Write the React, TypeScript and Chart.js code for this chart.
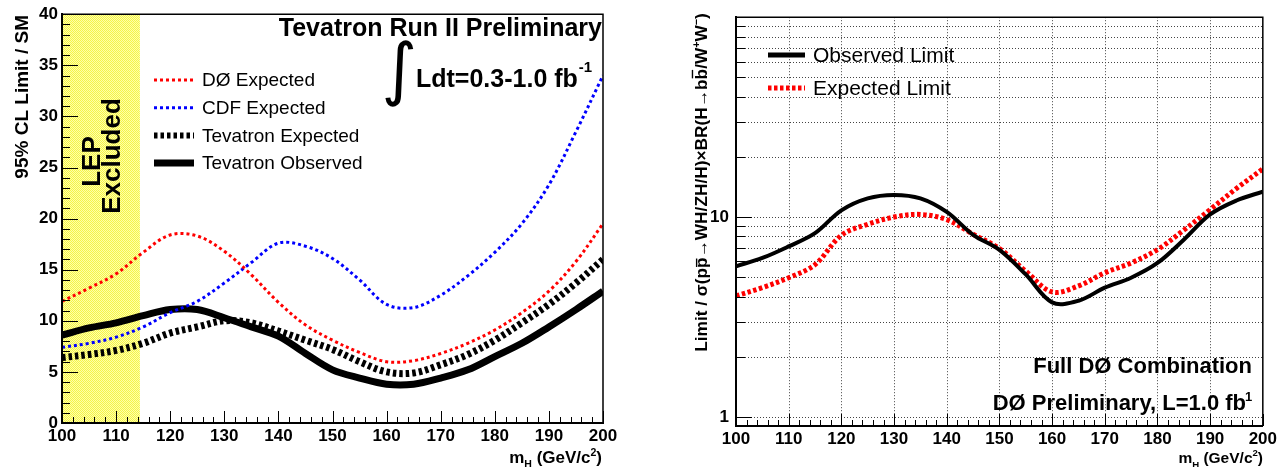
import React, { useEffect, useRef } from 'react';
import { Chart, registerables } from 'chart.js';

Chart.register(...registerables);

const FAMILY = "'Liberation Sans', Arial, Helvetica, sans-serif";

// ---------- Left panel: Tevatron combination (limit / SM) ----------
const massL = [100, 105, 110, 115, 120, 125, 130, 135, 140, 145, 150, 155, 160, 165, 170, 175, 180, 185, 190, 195, 200];
const d0Expected = [11.9, 13.2, 14.6, 16.7, 18.4, 18.3, 16.8, 14.5, 11.8, 9.6, 8.1, 6.9, 6.0, 6.1, 6.8, 7.8, 9.1, 10.8, 12.9, 15.8, 19.5];
const cdfExpected = [7.4, 7.8, 8.4, 9.4, 10.8, 11.9, 13.7, 15.7, 17.6, 17.3, 16.1, 14.0, 11.6, 11.3, 12.5, 14.4, 16.7, 19.5, 23.3, 28.5, 34.0];
const tevExpected = [6.4, 6.7, 7.1, 7.8, 8.8, 9.4, 10.0, 9.8, 9.0, 8.1, 7.2, 6.0, 5.0, 4.9, 5.7, 6.7, 8.1, 9.8, 11.6, 13.7, 16.0];
const tevObserved = [8.6, 9.3, 9.8, 10.5, 11.1, 11.1, 10.3, 9.4, 8.5, 6.8, 5.2, 4.4, 3.8, 3.8, 4.4, 5.2, 6.5, 7.8, 9.4, 11.1, 12.9];
const lepLimit = 114.4;
const seriesNamesL = ['DØ Expected', 'CDF Expected', 'Tevatron Expected', 'Tevatron Observed'];

// ---------- Right panel: full DØ combination (log) ----------
const massR = [100, 105, 110, 115, 120, 125, 130, 135, 140, 145, 150, 155, 160, 165, 170, 175, 180, 185, 190, 195, 200];
const d0ObservedLimit = [5.67, 6.24, 7.13, 8.3, 10.8, 12.4, 12.9, 12.4, 10.6, 8.15, 6.85, 5.16, 3.74, 3.81, 4.43, 4.97, 5.89, 7.7, 10.3, 12.1, 13.4];
const d0ExpectedLimit = [4.03, 4.43, 4.97, 5.78, 8.1, 9.2, 10.0, 10.3, 9.7, 8.2, 6.95, 5.36, 4.22, 4.52, 5.26, 5.89, 6.87, 8.6, 10.9, 13.9, 17.4];
const seriesNamesR = ['Observed Limit', 'Expected Limit'];
const logGridValues = [1, 2, 3, 4, 5, 6, 7, 8, 9, 10, 20, 30, 40, 50, 60, 70, 80, 90];
const logLabelValues = [1, 10];

const pts = (xs: number[], ys: number[]) => xs.map((x, i) => ({ x, y: ys[i] }));

type Seg = { t: string; k?: 'sup' | 'sub'; over?: number };

function segSize(seg: Seg, size: number) {
  return seg.k ? size * 0.62 : size;
}

function richWidth(ctx: CanvasRenderingContext2D, segs: Seg[], size: number, weight: string) {
  let w = 0;
  for (const s of segs) {
    ctx.font = `${weight} ${segSize(s, size)}px ${FAMILY}`;
    w += ctx.measureText(s.t).width;
  }
  return w;
}

function drawRich(
  ctx: CanvasRenderingContext2D,
  segs: Seg[],
  x: number,
  y: number,
  size: number,
  align: 'left' | 'right' | 'center',
  weight = 'bold',
  supShift = 0.42,
  subShift = 0.3
) {
  const w = richWidth(ctx, segs, size, weight);
  let cx = align === 'left' ? x : align === 'right' ? x - w : x - w / 2;
  ctx.textAlign = 'left';
  ctx.textBaseline = 'alphabetic';
  for (const s of segs) {
    const sz = segSize(s, size);
    ctx.font = `${weight} ${sz}px ${FAMILY}`;
    const dy = s.k === 'sup' ? -size * supShift : s.k === 'sub' ? size * subShift : 0;
    ctx.fillText(s.t, cx, y + dy);
    const sw = ctx.measureText(s.t).width;
    if (s.over) {
      ctx.save();
      ctx.lineWidth = Math.max(1, size * 0.08);
      ctx.beginPath();
      ctx.moveTo(cx + sw * 0.1, y - size * s.over);
      ctx.lineTo(cx + sw * 0.9, y - size * s.over);
      ctx.stroke();
      ctx.restore();
    }
    cx += sw;
  }
}

function makePattern(ctx: CanvasRenderingContext2D) {
  const c = document.createElement('canvas');
  c.width = 2;
  c.height = 2;
  const p = c.getContext('2d')!;
  p.fillStyle = '#ffffa8';
  p.fillRect(0, 0, 2, 2);
  p.fillStyle = '#f4f44a';
  p.fillRect(0, 0, 1, 1);
  p.fillRect(1, 1, 1, 1);
  return ctx.createPattern(c, 'repeat') || '#ffff70';
}

function drawIntegral(ctx: CanvasRenderingContext2D, cx: number, top: number, bottom: number) {
  ctx.save();
  ctx.font = `100px 'DejaVu Sans'`;
  let m = ctx.measureText('∫');
  const h = m.actualBoundingBoxAscent + m.actualBoundingBoxDescent;
  const size = (100 * (bottom - top)) / h;
  ctx.font = `${size}px 'DejaVu Sans'`;
  m = ctx.measureText('∫');
  ctx.textAlign = 'left';
  ctx.textBaseline = 'alphabetic';
  ctx.fillStyle = '#000';
  const x = cx - (m.actualBoundingBoxRight - m.actualBoundingBoxLeft) / 2;
  ctx.fillText('∫', x, top + m.actualBoundingBoxAscent);
  ctx.restore();
}

function yTicks(ctx: CanvasRenderingContext2D, chart: any, values: number[], len: number) {
  const ys = chart.scales.y;
  const l = chart.chartArea.left;
  ctx.beginPath();
  for (const v of values) {
    const py = Math.round(ys.getPixelForValue(v)) + 0.5;
    ctx.moveTo(l, py);
    ctx.lineTo(l + len, py);
  }
  ctx.stroke();
}

function xTicks(ctx: CanvasRenderingContext2D, chart: any, values: number[], len: number) {
  const xs = chart.scales.x;
  const b = chart.chartArea.bottom;
  ctx.beginPath();
  for (const v of values) {
    const px = Math.round(xs.getPixelForValue(v)) + 0.5;
    ctx.moveTo(px, b);
    ctx.lineTo(px, b - len);
  }
  ctx.stroke();
}

function range(a: number, b: number, step: number) {
  const out: number[] = [];
  for (let v = a; v <= b + 1e-9; v += step) out.push(v);
  return out;
}

function drawFrame(ctx: CanvasRenderingContext2D, a: any) {
  ctx.save();
  ctx.strokeStyle = '#000';
  ctx.lineWidth = 1.5;
  ctx.beginPath();
  ctx.moveTo(a.left, a.top);
  ctx.lineTo(a.right, a.top);
  ctx.lineTo(a.right, a.bottom);
  ctx.stroke();
  ctx.lineWidth = 2;
  ctx.beginPath();
  ctx.moveTo(a.left, a.top);
  ctx.lineTo(a.left, a.bottom);
  ctx.lineTo(a.right, a.bottom);
  ctx.stroke();
  ctx.restore();
}

function drawLegend(ctx: CanvasRenderingContext2D, chart: any, x0: number, x1: number, tx: number, y0: number, dy: number, size: number) {
  chart.data.datasets.forEach((ds: any, i: number) => {
    const y = y0 + dy * i;
    ctx.save();
    ctx.strokeStyle = ds.borderColor;
    ctx.lineWidth = ds.legendWidth || ds.borderWidth;
    ctx.setLineDash(ds.borderDash || []);
    ctx.beginPath();
    ctx.moveTo(x0, y);
    ctx.lineTo(x1, y);
    ctx.stroke();
    ctx.restore();
    ctx.save();
    ctx.fillStyle = '#000';
    ctx.font = `${size}px ${FAMILY}`;
    ctx.textAlign = 'left';
    ctx.textBaseline = 'middle';
    ctx.fillText(ds.label, tx, y + 1);
    ctx.restore();
  });
}

const massTitle: Seg[] = [{ t: 'm' }, { t: 'H', k: 'sub' }, { t: ' (GeV/c' }, { t: '2', k: 'sup' }, { t: ')' }];

const leftDecor = {
  id: 'leftDecor',
  beforeDatasetsDraw(chart: any) {
    const { ctx, chartArea: a, scales } = chart;
    const x1 = scales.x.getPixelForValue(lepLimit);
    ctx.save();
    ctx.fillStyle = makePattern(ctx);
    ctx.fillRect(a.left, a.top, x1 - a.left, a.bottom - a.top);
    ctx.fillStyle = '#000';
    ctx.font = `bold 26px ${FAMILY}`;
    ctx.textAlign = 'center';
    ctx.textBaseline = 'alphabetic';
    ctx.save();
    ctx.translate(100, 161.5);
    ctx.rotate(-Math.PI / 2);
    ctx.fillText('LEP', 0, 0);
    ctx.restore();
    ctx.save();
    ctx.translate(120, 156);
    ctx.rotate(-Math.PI / 2);
    ctx.fillText('Excluded', 0, 0);
    ctx.restore();
    ctx.restore();
  },
  afterDraw(chart: any) {
    const { ctx, chartArea: a } = chart;
    ctx.save();
    ctx.strokeStyle = '#000';
    ctx.lineWidth = 1;
    yTicks(ctx, chart, range(0, 40, 1), 8);
    yTicks(ctx, chart, range(0, 40, 5), 16);
    xTicks(ctx, chart, range(100, 200, 2), 6);
    xTicks(ctx, chart, range(100, 200, 10), 12);
    ctx.restore();
    drawFrame(ctx, a);

    ctx.save();
    ctx.fillStyle = '#000';
    ctx.font = `bold 25px ${FAMILY}`;
    ctx.textAlign = 'right';
    ctx.textBaseline = 'alphabetic';
    ctx.fillText('Tevatron Run II Preliminary', 602, 36);
    ctx.textAlign = 'left';
    const lumi = 'Ldt=0.3-1.0 fb';
    ctx.fillText(lumi, 416, 87);
    const lw = ctx.measureText(lumi).width;
    ctx.font = `bold 15px ${FAMILY}`;
    ctx.fillText('-1', 416 + lw + 1, 72);
    ctx.restore();
    drawIntegral(ctx, 399, 40, 107);

    drawLegend(ctx, chart, 154, 194, 202, 80, 27.7, 19);

    ctx.save();
    ctx.fillStyle = '#000';
    ctx.strokeStyle = '#000';
    ctx.translate(28, 15);
    ctx.rotate(-Math.PI / 2);
    drawRich(ctx, [{ t: '95% CL Limit / SM' }], 0, 0, 19, 'right');
    ctx.restore();

    ctx.save();
    ctx.fillStyle = '#000';
    drawRich(ctx, massTitle, 602, 463, 17, 'right');
    ctx.restore();
  },
};

const rightDecor = {
  id: 'rightDecor',
  beforeDatasetsDraw(chart: any) {
    const { ctx, chartArea: a, scales } = chart;
    ctx.save();
    ctx.strokeStyle = '#444';
    ctx.lineWidth = 1;
    ctx.setLineDash([1, 2]);
    ctx.beginPath();
    for (const v of range(110, 190, 10)) {
      const px = Math.round(scales.x.getPixelForValue(v)) + 0.5;
      ctx.moveTo(px, a.top);
      ctx.lineTo(px, a.bottom);
    }
    for (const v of logGridValues) {
      const py = Math.round(scales.y.getPixelForValue(v)) + 0.5;
      ctx.moveTo(a.left, py);
      ctx.lineTo(a.right, py);
    }
    ctx.stroke();
    ctx.restore();
  },
  afterDraw(chart: any) {
    const { ctx, chartArea: a } = chart;
    ctx.save();
    ctx.strokeStyle = '#000';
    ctx.lineWidth = 1;
    yTicks(ctx, chart, logGridValues, 9);
    yTicks(ctx, chart, logLabelValues, 16);
    xTicks(ctx, chart, range(100, 200, 2), 6);
    xTicks(ctx, chart, range(100, 200, 10), 12);
    ctx.restore();
    drawFrame(ctx, a);

    drawLegend(ctx, chart, 128, 165, 173, 55, 33, 21);

    ctx.save();
    ctx.fillStyle = '#000';
    ctx.font = `bold 22px ${FAMILY}`;
    ctx.textAlign = 'right';
    ctx.textBaseline = 'alphabetic';
    ctx.fillText('Full DØ Combination', 612, 373);
    ctx.fillText('DØ Preliminary, L=1.0 fb', 606, 410);
    ctx.font = `bold 13px ${FAMILY}`;
    ctx.textAlign = 'left';
    ctx.fillText('1', 605, 401);
    ctx.restore();

    const ytitle: Seg[] = [
      { t: 'Limit / σ(p' },
      { t: 'p', over: 0.6 },
      { t: '→WH/ZH/H)×BR(H→b' },
      { t: 'b', over: 0.84 },
      { t: '/W' },
      { t: '+', k: 'sup' },
      { t: 'W' },
      { t: '−', k: 'sup' },
      { t: ')' },
    ];
    ctx.save();
    ctx.fillStyle = '#000';
    ctx.strokeStyle = '#000';
    const w16 = richWidth(ctx, ytitle, 16, 'bold');
    const size = (16 * 339) / w16;
    ctx.translate(67, 182.5);
    ctx.rotate(-Math.PI / 2);
    drawRich(ctx, ytitle, 0, 0, size, 'center');
    ctx.restore();

    ctx.save();
    ctx.fillStyle = '#000';
    drawRich(ctx, massTitle, 623, 463, 15.5, 'right');
    ctx.restore();
  },
};

const tickFont = { family: FAMILY, size: 17, weight: 'bold' as const };

export default function App() {
  const leftRef = useRef<HTMLCanvasElement>(null);
  const rightRef = useRef<HTMLCanvasElement>(null);

  useEffect(() => {
    const common = {
      pointRadius: 0,
      fill: false,
      tension: 0.35,
    };
    const left = new Chart(leftRef.current!, {
      type: 'line',
      data: {
        datasets: [
          { ...common, label: seriesNamesL[0], data: pts(massL, d0Expected), borderColor: '#ff0000', borderWidth: 3, borderDash: [3, 3] },
          { ...common, label: seriesNamesL[1], data: pts(massL, cdfExpected), borderColor: '#0000ff', borderWidth: 3, borderDash: [3, 3] },
          { ...common, label: seriesNamesL[2], data: pts(massL, tevExpected), borderColor: '#000000', borderWidth: 7, borderDash: [3.5, 3], legendWidth: 6 } as any,
          { ...common, label: seriesNamesL[3], data: pts(massL, tevObserved), borderColor: '#000000', borderWidth: 7 },
        ],
      },
      options: {
        responsive: false,
        animation: false,
        devicePixelRatio: 1,
        events: [],
        layout: { padding: { top: 14, right: 37, left: 0, bottom: 0 } },
        plugins: { legend: { display: false }, tooltip: { enabled: false } },
        scales: {
          x: {
            type: 'linear',
            min: 100,
            max: 200,
            afterFit: (s: any) => {
              s.height = 44;
            },
            grid: { display: false, drawTicks: false },
            border: { display: true, color: '#000', width: 2 },
            ticks: { stepSize: 10, padding: 3, font: tickFont, color: '#000', maxRotation: 0, autoSkip: false },
          },
          y: {
            type: 'linear',
            min: 0,
            max: 40,
            afterFit: (s: any) => {
              s.width = 62;
            },
            grid: { display: false, drawTicks: false },
            border: { display: true, color: '#000', width: 2 },
            ticks: { stepSize: 5, padding: 4, font: tickFont, color: '#000', autoSkip: false },
          },
        },
      },
      plugins: [leftDecor],
    });

    const right = new Chart(rightRef.current!, {
      type: 'line',
      data: {
        datasets: [
          { ...common, label: seriesNamesR[0], data: pts(massR, d0ObservedLimit), borderColor: '#000000', borderWidth: 4, legendWidth: 5 } as any,
          { ...common, label: seriesNamesR[1], data: pts(massR, d0ExpectedLimit), borderColor: '#ff0000', borderWidth: 5, borderDash: [3.5, 2.5] },
        ],
      },
      options: {
        responsive: false,
        animation: false,
        devicePixelRatio: 1,
        events: [],
        layout: { padding: { top: 14, right: 17, left: 0, bottom: 0 } },
        plugins: { legend: { display: false }, tooltip: { enabled: false } },
        scales: {
          x: {
            type: 'linear',
            min: 100,
            max: 200,
            afterFit: (s: any) => {
              s.height = 41;
            },
            grid: { display: false, drawTicks: false },
            border: { display: true, color: '#000', width: 2 },
            ticks: { stepSize: 10, padding: 3, font: tickFont, color: '#000', maxRotation: 0, autoSkip: false },
          },
          y: {
            type: 'logarithmic',
            min: 0.9,
            max: 100,
            afterFit: (s: any) => {
              s.width = 96;
            },
            afterBuildTicks: (s: any) => {
              s.ticks = logGridValues.map((v) => ({ value: v, major: logLabelValues.includes(v) }));
            },
            grid: { display: false, drawTicks: false },
            border: { display: true, color: '#000', width: 2 },
            ticks: {
              padding: 7,
              font: tickFont,
              color: '#000',
              autoSkip: false,
              callback: (v: any) => (logLabelValues.includes(Number(v)) ? String(v) : ''),
            },
          },
        },
      },
      plugins: [rightDecor],
    });

    return () => {
      left.destroy();
      right.destroy();
    };
  }, []);

  return (
    <div style={{ position: 'fixed', left: 0, top: 0, width: 1280, height: 467, background: '#fff' }}>
      <canvas ref={leftRef} width={640} height={467} style={{ position: 'absolute', left: 0, top: 0, display: 'block' }} />
      <canvas ref={rightRef} width={640} height={467} style={{ position: 'absolute', left: 640, top: 0, display: 'block' }} />
    </div>
  );
}
